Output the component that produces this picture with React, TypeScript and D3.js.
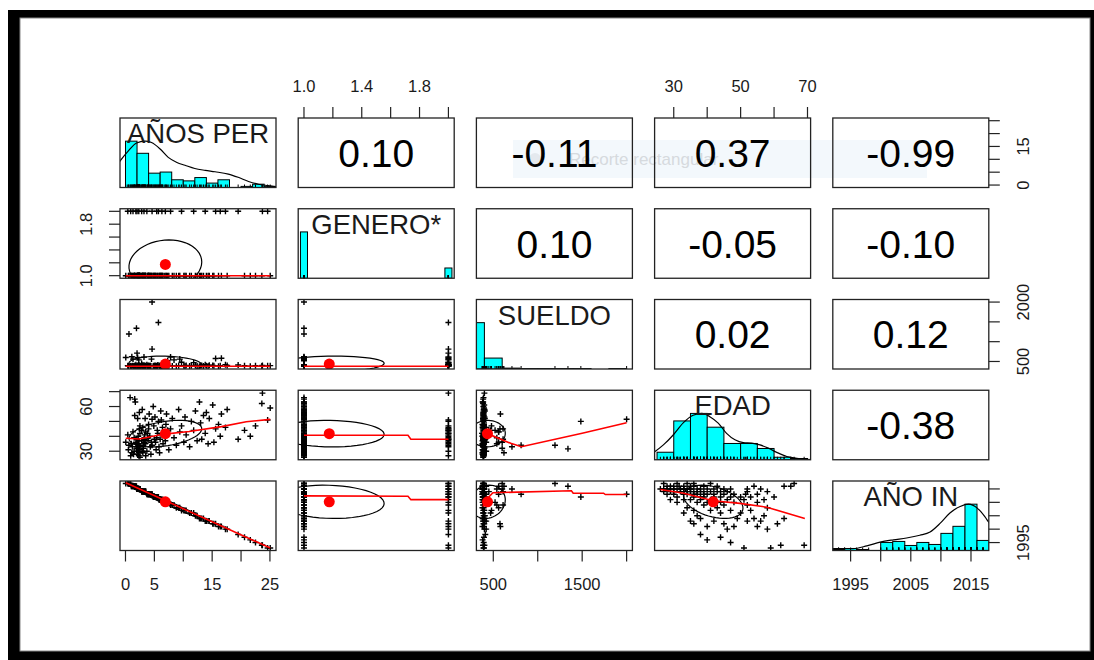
import React from 'react';
import * as d3 from 'd3';

// variables, in the order of the pairs plot
const varNames = ['AÑOS PER', 'GENERO*', 'SUELDO', 'EDAD', 'AÑO IN'];
const varMin = [0.05, 1, 375, 26, 1993];
const varMax = [25.05, 2, 2000, 69.2, 2017];
const varMean = [6.9, 1.175, 435, 41.8, 2010.2];
const varSd = [6.3, 0.38, 200, 8.9, 6.2];

// correlations printed in the upper panels
const corr = [
  [1, 0.1, -0.11, 0.37, -0.99],
  [0.1, 1, 0.1, -0.05, -0.1],
  [-0.11, 0.1, 1, 0.02, 0.12],
  [0.37, -0.05, 0.02, 1, -0.38],
  [-0.99, -0.1, 0.12, -0.38, 1],
];

// axis ticks and the labels R kept
const tickValues = [
  [0, 5, 10, 15, 20, 25],
  [1.0, 1.2, 1.4, 1.6, 1.8, 2.0],
  [500, 1000, 1500, 2000],
  [30, 40, 50, 60, 70],
  [1995, 2000, 2005, 2010, 2015],
];
const colTickLabels = [[0, 5, 15, 25], [1.0, 1.4, 1.8], [500, 1500], [30, 50, 70], [1995, 2005, 2015]];
const rowTickLabels = [[0, 15], [1.0, 1.8], [500, 2000], [30, 60], [1995]];
const labelDecimals = [0, 1, 0, 0, 0];

// observations
const anoIn = [
  1993, 1993, 1994, 1994, 1995, 1996, 1997, 1998, 2000, 2000,
  2001, 2001, 2001, 2002, 2002, 2002, 2003, 2003, 2003, 2003,
  2004, 2004, 2004, 2004, 2005, 2005, 2006, 2006, 2006, 2007,
  2007, 2007, 2007, 2008, 2008, 2008, 2009, 2009, 2009, 2010,
  2010, 2010, 2010, 2010, 2010, 2011, 2011, 2011, 2011, 2011,
  2011, 2011, 2011, 2011, 2012, 2012, 2012, 2012, 2012, 2012,
  2012, 2012, 2012, 2012, 2013, 2013, 2013, 2013, 2013, 2013,
  2013, 2013, 2013, 2013, 2013, 2013, 2013, 2014, 2014, 2014,
  2014, 2014, 2014, 2014, 2014, 2014, 2014, 2014, 2014, 2014,
  2014, 2014, 2014, 2015, 2015, 2015, 2015, 2015, 2015, 2015,
  2015, 2015, 2015, 2015, 2015, 2015, 2015, 2015, 2015, 2015,
  2015, 2015, 2015, 2016, 2016, 2016, 2016, 2016, 2016, 2016,
  2016, 2016, 2016, 2016, 2016, 2017, 2017, 2017, 2017, 2017, 2017,
];
const anosPer = [
  25.05, 24.6, 23.7, 23.6, 22.5, 21.6, 20.6, 19.5, 17.6, 17.3,
  16.6, 16.4, 16.1, 15.6, 15.3, 15.1, 14.5, 14.3, 13.8, 14.0,
  13.5, 13.2, 13.0, 12.8, 12.4, 12.1, 11.8, 11.4, 11.1, 10.5,
  10.3, 10.1, 9.7, 9.4, 9.2, 8.8, 8.4, 8.1, 7.8, 7.5,
  7.3, 7.1, 6.9, 7.0, 6.8, 6.5, 6.3, 6.2, 6.0, 6.4,
  5.9, 6.1, 6.3, 5.8, 5.7, 5.4, 5.5, 5.2, 5.1, 5.3,
  4.9, 5.0, 5.6, 4.8, 4.6, 4.6, 4.4, 4.2, 4.0, 4.3,
  3.9, 4.1, 3.8, 4.5, 3.7, 4.0, 3.9, 3.5, 3.4, 3.3,
  3.2, 3.1, 3.0, 2.9, 3.4, 3.2, 2.8, 3.0, 3.3, 3.1,
  2.9, 3.5, 2.8, 2.5, 2.4, 2.3, 2.2, 2.1, 2.5, 2.0,
  2.3, 2.4, 2.2, 2.1, 2.0, 2.5, 2.3, 2.2, 2.4, 2.1,
  2.0, 2.3, 2.5, 1.9, 1.8, 1.6, 1.5, 1.4, 1.3, 1.2,
  1.7, 1.1, 1.5, 1.0, 1.6, 0.6, 0.9, 0.8, 0.5, 0.4, 0.05,
];
const genero = [
  1, 2, 2, 1, 1, 1, 1, 2, 1, 2,
  1, 2, 1, 2, 1, 1, 1, 1, 2, 1,
  1, 1, 1, 1, 1, 1, 2, 1, 1, 1,
  1, 1, 2, 1, 1, 1, 1, 1, 2, 1,
  1, 1, 2, 1, 1, 1, 2, 1, 1, 1,
  1, 1, 1, 1, 2, 2, 1, 1, 1, 1,
  1, 1, 1, 1, 1, 2, 1, 1, 1, 1,
  1, 1, 1, 1, 2, 1, 1, 1, 1, 1,
  2, 1, 1, 1, 1, 1, 2, 1, 1, 1,
  1, 1, 1, 1, 1, 2, 1, 1, 1, 2,
  1, 1, 1, 1, 1, 1, 1, 1, 1, 1,
  1, 1, 1, 1, 2, 1, 1, 1, 2, 1,
  1, 1, 1, 1, 1, 1, 2, 1, 1, 2, 1,
];
const sueldo = [
  395, 390, 400, 385, 392, 380, 395, 410, 400, 420,
  580, 395, 378, 575, 390, 398, 405, 385, 420, 392,
  388, 400, 395, 380, 392, 405, 470, 390, 386, 398,
  388, 395, 480, 560, 392, 378, 540, 386, 610, 395,
  520, 388, 400, 392, 380, 390, 430, 386, 395, 400,
  378, 392, 386, 398, 1485, 390, 388, 395, 400, 380,
  392, 386, 410, 388, 2000, 813, 388, 395, 382, 392,
  400, 388, 376, 560, 420, 395, 386, 392, 386, 390,
  610, 400, 380, 392, 388, 395, 450, 386, 390, 378,
  398, 386, 392, 386, 390, 540, 386, 395, 388, 710,
  380, 392, 400, 386, 390, 376, 395, 386, 388, 600,
  386, 392, 382, 1340, 420, 386, 390, 380, 560, 395,
  386, 620, 388, 378, 392, 1194, 386, 390, 386, 395, 600,
];
const edad = [
  59, 51, 69, 62, 47, 40, 44, 38, 58, 46,
  55, 40, 48, 45, 36, 61, 52, 35, 42, 56,
  54, 38, 49, 63, 37, 57, 44, 50, 33, 41,
  53, 36, 47, 43, 58, 34, 39, 52, 45, 31,
  44, 55, 37, 48, 40, 35, 42, 51, 38, 46,
  29, 57, 41, 33, 50, 39, 44, 36, 53, 31,
  47, 38, 42, 60, 51.5, 34, 28, 40, 45, 33,
  37, 55, 42, 36, 30, 48, 39, 27, 35, 41,
  38, 32, 46, 30, 52, 36, 44, 29, 39, 34,
  58, 43, 37, 26, 31, 35, 40, 28, 33, 33,
  37, 45, 30, 52, 35, 42, 29, 34, 56, 32,
  38, 27, 47, 31.6, 36, 65, 30, 28, 43, 33,
  63, 29, 39, 35, 54, 34, 27, 66, 31, 41, 36,
];

// histogram counts
const anosBreaks = [0, 2, 4, 6, 8, 10, 12, 14, 16, 18, 20, 22, 24, 26];
const anosCounts = [42, 31, 13, 14, 7, 6, 9, 4, 7, 0, 1, 3, 1];
const generoLevels = [1, 2];
const generoCounts = [113, 25];
const sueldoBreaks = [200, 400, 600, 800, 1000, 1200, 1400, 1600, 1800, 2000];
const sueldoCounts = [106, 25, 2, 1, 1, 1, 1, 0, 1];
const edadBreaks = [25, 30, 35, 40, 45, 50, 55, 60, 65, 70];
const edadCounts = [6, 31, 37, 26, 13, 13, 9, 2, 1];
const anoInBreaks = [1992, 1994, 1996, 1998, 2000, 2002, 2004, 2006, 2008, 2010, 2012, 2014, 2016, 2018];
const anoInCounts = [1, 2, 1, 0, 8, 9, 5, 8, 6, 17, 24, 46, 10];

// density curves (scaled to a peak of 1)
const anosDensity = [
  [-3, 0.2], [-0.95, 0.57], [0.5, 0.79], [1.9, 0.96], [3.4, 1.0], [4.5, 0.97], [6.0, 0.83],
  [7.4, 0.65], [8.9, 0.54], [10.3, 0.48], [12.0, 0.41], [13.8, 0.37], [15.5, 0.34],
  [17.8, 0.29], [19.5, 0.22], [21.3, 0.13], [23.0, 0.07], [24.7, 0.04], [25.9, 0.02], [28, 0.01],
];
const edadDensity = [
  [22, 0.08], [24.4, 0.18], [26.9, 0.32], [29.9, 0.54], [32.9, 0.8], [35.8, 0.96], [38.4, 1.0],
  [40.8, 0.93], [43.3, 0.79], [45.8, 0.57], [48.3, 0.43], [50.8, 0.37], [53.3, 0.36],
  [55.8, 0.32], [58.3, 0.25], [60.8, 0.16], [63.8, 0.07], [66.8, 0.03], [69.8, 0.01], [73, 0.0],
];
const anoInDensity = [
  [1990, 0.02], [1992.1, 0.04], [1995.4, 0.04], [1997.7, 0.1], [1999.9, 0.18], [2002.1, 0.23],
  [2004.3, 0.27], [2006.5, 0.33], [2008.2, 0.4], [2009.9, 0.59], [2011.5, 0.81], [2013.2, 0.95],
  [2014.6, 1.0], [2016.0, 0.92], [2017.3, 0.73], [2018.0, 0.6], [2019.5, 0.35],
];

// red smoothers of the lower panels, keyed "row-col"
const smoothGeneroAnos = [[0.05, 1.0], [25.05, 1.0]];
const smoothSueldoAnos = [[0.05, 380], [25.05, 380]];
const smoothSueldoGenero = [[1, 380], [2, 380]];
const smoothEdadAnos = [[0.05, 38.7], [2.4, 38.2], [6.7, 41.5], [11, 43.2], [16.6, 46.5], [20.9, 49.8], [25.05, 51.4]];
const smoothEdadGenero = [[1, 40.7], [1.72, 40.7], [1.74, 38.0], [2, 38.0]];
const smoothEdadSueldo = [[375, 42.5], [435, 41.8], [696, 35.3], [816, 33.0], [1500, 42.0], [2000, 49.1]];
const smoothAnoInAnos = [[0.05, 2017.3], [25.05, 1993.0]];
const smoothAnoInGenero = [[1, 2012.4], [1.72, 2012.3], [1.74, 2011.0], [2, 2011.0]];
const smoothAnoInSueldo = [[383, 2008.4], [420, 2011.0], [496, 2013.6], [1379, 2014.3], [1399, 2013.4], [1741, 2013.4], [1760, 2012.9], [2000, 2012.9]];
const smoothAnoInEdad = [[26, 2014.8], [33, 2013.4], [41.8, 2010.6], [49.8, 2009.6], [57.8, 2008.2], [69.2, 2004.0]];

const FONT = "'Liberation Sans', Arial, Helvetica, sans-serif";

const App = () => {
  const ref = React.useRef(null);

  React.useEffect(() => {
    const svg = d3.select(ref.current);
    svg.selectAll('*').remove();

    const n = varNames.length;
    const cols = [anosPer, genero, sueldo, edad, anoIn];
    const hists = [
      [anosBreaks, anosCounts], null, [sueldoBreaks, sueldoCounts],
      [edadBreaks, edadCounts], [anoInBreaks, anoInCounts],
    ];
    const dens = [anosDensity, null, null, edadDensity, anoInDensity];
    const smooth = {
      '1-0': smoothGeneroAnos, '2-0': smoothSueldoAnos, '2-1': smoothSueldoGenero,
      '3-0': smoothEdadAnos, '3-1': smoothEdadGenero, '3-2': smoothEdadSueldo,
      '4-0': smoothAnoInAnos, '4-1': smoothAnoInGenero, '4-2': smoothAnoInSueldo, '4-3': smoothAnoInEdad,
    };

    // layout of the 5x5 grid
    const panelLeft = 120, panelTop = 118, panelW = 156, panelH = 69.5;
    const stepX = 178.2, stepY = 90.75;
    const left = (j) => panelLeft + j * stepX;
    const top = (i) => panelTop + i * stepY;
    const usr = (k) => {
      const r = varMax[k] - varMin[k];
      return [varMin[k] - 0.04 * r, varMax[k] + 0.04 * r];
    };
    const xs = d3.range(n).map((j) => d3.scaleLinear().domain(usr(j)).range([left(j), left(j) + panelW]));
    const ys = d3.range(n).map((i) => d3.scaleLinear().domain(usr(i)).range([top(i) + panelH, top(i)]));

    // screenshot frame
    svg.append('rect').attr('width', 1094).attr('height', 660).attr('fill', '#fff');
    svg.append('rect').attr('x', 8).attr('y', 10).attr('width', 1086).attr('height', 650).attr('fill', '#000');
    svg.append('rect').attr('x', 20).attr('y', 18).attr('width', 1070).attr('height', 633)
      .attr('fill', '#fff').attr('stroke', '#888').attr('stroke-width', 1);

    // faint snipping-tool hint left in the screenshot
    svg.append('rect').attr('x', 513).attr('y', 140).attr('width', 414).attr('height', 38)
      .attr('fill', '#e8f1fa').attr('opacity', 0.5);
    svg.append('circle').attr('cx', 535).attr('cy', 159).attr('r', 6).attr('fill', '#e4e9ee');
    svg.append('text').attr('x', 569).attr('y', 165).text('Recorte rectangular')
      .attr('font-family', FONT).attr('font-size', 17).attr('fill', '#d6dade');

    const defs = svg.append('defs');
    const ink = '#1a1a1a';

    for (let i = 0; i < n; i++) {
      for (let j = 0; j < n; j++) {
        const x0 = left(j), y0 = top(i);
        const id = `clip-${i}-${j}`;
        defs.append('clipPath').attr('id', id)
          .append('rect').attr('x', x0).attr('y', y0).attr('width', panelW).attr('height', panelH);
        const g = svg.append('g');
        const inner = g.append('g').attr('clip-path', `url(#${id})`);

        if (i === j) {
          const hy = d3.scaleLinear().domain([0, 1.5]).range([y0 + panelH, y0]);
          const x = xs[i];
          if (hists[i]) {
            const [br, ct] = hists[i];
            const mx = d3.max(ct);
            inner.selectAll('rect.bar').data(ct).join('rect').attr('class', 'bar')
              .attr('x', (d, k) => x(br[k]))
              .attr('width', (d, k) => x(br[k + 1]) - x(br[k]))
              .attr('y', (d) => hy(d / mx))
              .attr('height', (d) => hy(0) - hy(d / mx))
              .attr('fill', '#00FFFF').attr('stroke', '#000').attr('stroke-width', 1);
          } else {
            const mx = d3.max(generoCounts);
            const half = 1 / 41;
            inner.selectAll('rect.bar').data(generoCounts).join('rect').attr('class', 'bar')
              .attr('x', (d, k) => x(generoLevels[k] - half))
              .attr('width', (d, k) => x(generoLevels[k] + half) - x(generoLevels[k] - half))
              .attr('y', (d) => hy(d / mx))
              .attr('height', (d) => hy(0) - hy(d / mx))
              .attr('fill', '#00FFFF').attr('stroke', '#000').attr('stroke-width', 1);
          }
          if (dens[i]) {
            inner.append('path')
              .attr('d', d3.line().x((d) => x(d[0])).y((d) => hy(d[1])).curve(d3.curveMonotoneX)(dens[i]))
              .attr('fill', 'none').attr('stroke', '#000').attr('stroke-width', 1.2);
          }
          // rug
          inner.selectAll('line.rug').data(cols[i]).join('line').attr('class', 'rug')
            .attr('x1', (d) => x(d)).attr('x2', (d) => x(d))
            .attr('y1', y0 + panelH).attr('y2', y0 + panelH - 3)
            .attr('stroke', '#000').attr('stroke-width', 1);
          g.append('text').attr('x', x0 + panelW / 2).attr('y', y0 + 25)
            .attr('text-anchor', 'middle').attr('font-family', FONT).attr('font-size', 27.5)
            .attr('fill', ink).text(varNames[i]);
        } else if (i < j) {
          g.append('text').attr('x', x0 + panelW / 2).attr('y', y0 + panelH / 2)
            .attr('dy', '0.36em').attr('text-anchor', 'middle')
            .attr('font-family', FONT).attr('font-size', 39).attr('fill', '#000')
            .text(corr[i][j].toFixed(2));
        } else {
          const x = xs[j], y = ys[i];
          const xv = cols[j], yv = cols[i];
          const s = 3;
          inner.selectAll('path.pt').data(d3.range(xv.length)).join('path').attr('class', 'pt')
            .attr('d', (k) => {
              const px = x(xv[k]), py = y(yv[k]);
              return `M${px - s},${py}H${px + s}M${px},${py - s}V${py + s}`;
            })
            .attr('stroke', '#000').attr('stroke-width', 1.4).attr('fill', 'none');

          // correlation ellipse at one standard deviation
          const r = corr[i][j];
          const a = Math.sqrt(1 + r), b = Math.sqrt(1 - r), th = Math.SQRT1_2;
          const ell = d3.range(52).map((q) => {
            const ang = (q * 2 * Math.PI) / 51;
            const c = Math.cos(ang), sn = Math.sin(ang);
            return [varMean[j] + (c * a - sn * b) * th * varSd[j], varMean[i] + (c * a + sn * b) * th * varSd[i]];
          });
          inner.append('path')
            .attr('d', d3.line().x((d) => x(d[0])).y((d) => y(d[1]))(ell))
            .attr('fill', 'none').attr('stroke', '#000').attr('stroke-width', 1.2);

          const sm = smooth[`${i}-${j}`];
          if (sm) {
            inner.append('path')
              .attr('d', d3.line().x((d) => x(d[0])).y((d) => y(d[1]))(sm))
              .attr('fill', 'none').attr('stroke', '#FF0000').attr('stroke-width', 1.6);
          }
          inner.append('circle').attr('cx', x(varMean[j])).attr('cy', y(varMean[i]))
            .attr('r', 5.5).attr('fill', '#FF0000');
        }

        g.append('rect').attr('x', x0).attr('y', y0).attr('width', panelW).attr('height', panelH)
          .attr('fill', 'none').attr('stroke', '#222').attr('stroke-width', 1.3);
      }
    }

    // axes around the grid
    const axisG = svg.append('g').attr('stroke', '#222').attr('stroke-width', 1.2);
    const txt = svg.append('g').attr('font-family', FONT).attr('font-size', 16.5).attr('fill', ink);
    const tickLen = 11;
    const gridBottom = top(n - 1) + panelH;
    const gridRight = left(n - 1) + panelW;
    const fmt = (k, v) => v.toFixed(labelDecimals[k]);

    for (let j = 0; j < n; j++) {
      const atTop = j % 2 === 1;
      const yEdge = atTop ? top(0) : gridBottom;
      const dir = atTop ? -1 : 1;
      tickValues[j].forEach((v) => {
        axisG.append('line').attr('x1', xs[j](v)).attr('x2', xs[j](v))
          .attr('y1', yEdge).attr('y2', yEdge + dir * tickLen);
      });
      colTickLabels[j].forEach((v) => {
        txt.append('text').attr('x', xs[j](v)).attr('y', atTop ? 85.8 : 584)
          .attr('dy', '0.36em').attr('text-anchor', 'middle').text(fmt(j, v));
      });
    }
    for (let i = 0; i < n; i++) {
      const atLeft = i % 2 === 1;
      const xEdge = atLeft ? left(0) : gridRight;
      const dir = atLeft ? -1 : 1;
      tickValues[i].forEach((v) => {
        axisG.append('line').attr('y1', ys[i](v)).attr('y2', ys[i](v))
          .attr('x1', xEdge).attr('x2', xEdge + dir * tickLen);
      });
      rowTickLabels[i].forEach((v) => {
        const cx = atLeft ? 86.5 : 1022.7;
        const cy = ys[i](v);
        txt.append('text').attr('transform', `translate(${cx},${cy}) rotate(-90)`)
          .attr('dy', '0.36em').attr('text-anchor', 'middle').text(fmt(i, v));
      });
    }
  }, []);

  return (
    <svg
      ref={ref}
      width={1094}
      height={660}
      style={{ position: 'absolute', left: 0, top: 0, display: 'block' }}
    />
  );
};

export default App;
